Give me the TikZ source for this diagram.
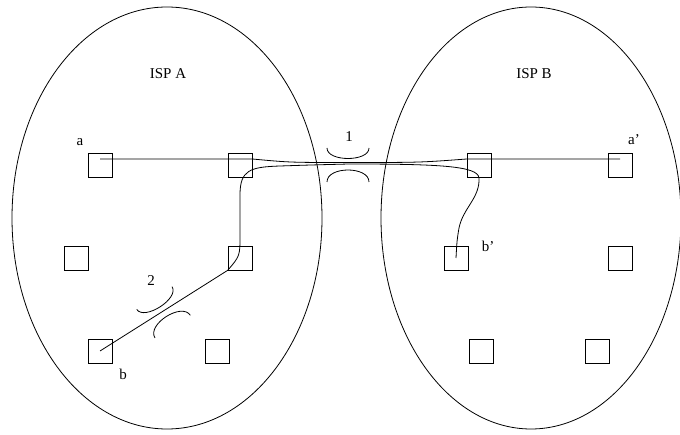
\documentclass[tikz,border=0pt]{standalone}
\usepackage{fontspec}
\setmainfont{Liberation Serif}
\usetikzlibrary{calc}

\tikzset{
  quadrato/.style={draw, line width=0.7pt, minimum size=24pt, inner sep=0pt},
  linea/.style={line width=0.8pt},
  etichetta/.style={font=\fontsize{15}{18}\selectfont, inner sep=0pt}
}

\begin{document}
\begin{tikzpicture}[x=1pt, y=-1pt]
\useasboundingbox (0,0) rectangle (680,435); % margini

% Domini
\draw[linea] (167,218) ellipse [x radius=155, y radius=211]; % ISP A
\draw[linea] (531,218) ellipse [x radius=150, y radius=211]; % ISP B
\node[etichetta] (ispA) at (168,74) {ISP A};
\node[etichetta] (ispB) at (534,74) {ISP B};

% Router
\foreach \nome/\x/\y in {a/100/165, s12/240/165, s13/479/165, ap/620/165,
                         s21/76/258, s22/240/258, bp/456/258, s24/620/258,
                         b/100/351, s32/217/351, s33/481/351, s34/597/351} {
    \node[quadrato] (\nome) at (\x,\y) {}; % quadratino
}

% Etichette dei router
\node[etichetta] (la)  at (80,142)  {a};
\node[etichetta] (lap) at (634,140) {a'};
\node[etichetta] (lb)  at (123,374) {b};
\node[etichetta] (lbp) at (488,246) {b'};

% Percorso a -- a'
\coordinate (m1) at (349,162.5);
\draw[linea] ([yshift=6pt]a.center) -- ([yshift=6pt]s12.east)
    .. controls (290,162.5) .. (m1)
    .. controls (420,162.5) .. ([yshift=6pt]s13.west) -- ([yshift=6pt]ap.center);

% Percorso b -- b'
\coordinate (m2) at (349,164);
\draw[linea] (b.center) -- (s22.south west)
    .. controls (240,256) .. (240,235) -- (240,195)
    .. controls (240,170) and (250,167) .. (280,166)
    .. controls (310,165) .. (m2)
    .. controls (440,164) and (478,166) .. (479,178)
    .. controls (480,198) and (463,208) .. (459,228)
    .. controls (457,240) .. (bp.center);

% Collo di bottiglia 1
\begin{scope}[shift={(348,164)}]
    \draw[linea] (-21,-16) .. controls (-21,-2) and (21,-2) .. (21,-16);
    \draw[linea] (-21,18) .. controls (-21,2) and (21,2) .. (21,18);
\end{scope}
\node[etichetta] (n1) at (349,137) {1};

% Collo di bottiglia 2
\begin{scope}[shift={(163,311.5)}, rotate=32.6]
    \draw[linea] (-21,-16) .. controls (-21,-2) and (21,-2) .. (21,-16);
    \draw[linea] (-21,18) .. controls (-21,2) and (21,2) .. (21,18);
\end{scope}
\node[etichetta] (n2) at (151,281) {2};

\end{tikzpicture}
\end{document}
